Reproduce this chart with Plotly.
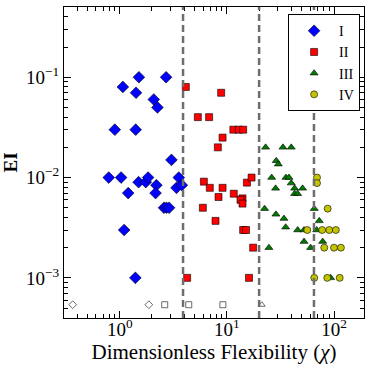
import plotly.graph_objects as go

# ---------------------------------------------------------------------------
# Data
# ---------------------------------------------------------------------------
group_names = ["I", "II", "III", "IV"]

chi_I = [1.51, 2.71, 1.07, 1.42, 2.08, 2.25, 0.90, 1.41, 3.04, 0.79, 1.03, 1.50,
         1.75, 1.84, 2.20, 3.56, 3.39, 3.80, 1.20, 2.16, 2.59, 2.73, 2.89, 1.10, 1.40]
ei_I = [0.1, 0.1, 0.08, 0.07, 0.06, 0.05, 0.03, 0.03, 0.015, 0.01, 0.01, 0.009,
        0.009, 0.01, 0.0084, 0.01, 0.0079, 0.0084, 0.007, 0.007, 0.005, 0.005, 0.005,
        0.003, 0.001]

chi_II = [4.14, 5.36, 6.83, 8.24, 8.85, 11.5, 12.9, 14.2, 9.12, 6.10, 6.93, 8.36,
          5.97, 7.84, 4.26, 9.12, 11.6, 15.4, 17.0, 14.0, 13.4, 14.0, 14.2, 15.1,
          17.6, 16.1]
ei_II = [0.08, 0.04, 0.04, 0.02, 0.07, 0.03, 0.03, 0.03, 0.025, 0.0091, 0.0079,
         0.0064, 0.005, 0.0037, 0.001, 0.0079, 0.0069, 0.0089, 0.01, 0.0062, 0.006,
         0.0055, 0.003, 0.003, 0.002, 0.001]

chi_III = [23.0, 33.4, 39.9, 28.9, 30.2, 26.2, 35.6, 38.0, 39.9, 28.5, 42.9, 50.9,
           42.9, 45.8, 22.5, 28.7, 34.1, 35.4, 45.8, 52.5, 52.5, 24.7, 60.5, 65.4,
           72.9, 68.9, 78.4, 93.1]
ei_III = [0.02, 0.02, 0.02, 0.0147, 0.0136, 0.01, 0.01, 0.01, 0.0088, 0.0078, 0.0078,
          0.0078, 0.0069, 0.0069, 0.0049, 0.0043, 0.0039, 0.0032, 0.003, 0.003,
          0.0023, 0.002, 0.002, 0.0049, 0.0037, 0.003, 0.0023, 0.001]

chi_IV = [69.4, 69.4, 87.3, 56.3, 77.5, 90.3, 104, 81.1, 100, 116, 65.4, 86.5, 113]
ei_IV = [0.01, 0.0088, 0.0049, 0.003, 0.003, 0.003, 0.003, 0.002, 0.002, 0.002,
         0.001, 0.001, 0.001]

# open markers along the bottom
open_chi = [0.364, 1.87, 2.63, 4.41, 9.18, 21.2]
open_ei = [0.00054] * 6
open_symbols = ["diamond-open", "diamond-open", "square-open", "square-open",
                "square-open", "triangle-up-open"]

boundaries = [3.9, 20, 65]

y_tickvals = [1e-3, 1e-2, 1e-1]
y_ticktext = ["10<sup>−3</sup>", "10<sup>−2</sup>", "10<sup>−1</sup>"]
x_tickvals = [1, 10, 100]
x_ticktext = ["10<sup>0</sup>", "10<sup>1</sup>", "10<sup>2</sup>"]

FONT = "Liberation Serif"


def minor_ticks(lo_exp, hi_exp):
    return [m * 10.0 ** e for e in range(lo_exp, hi_exp + 1) for m in range(2, 10)]


fig = go.Figure()

styles = [
    (chi_I, ei_I, "diamond", "#0000ff", 9),
    (chi_II, ei_II, "square", "#ff0000", 7),
    (chi_III, ei_III, "triangle-up", "#007a00", 7),
    (chi_IV, ei_IV, "circle", "#c4c400", 7),
]
for name, (xs, ys, sym, col, size) in zip(group_names, styles):
    fig.add_trace(go.Scatter(
        x=xs, y=ys, mode="markers", name=name,
        marker=dict(symbol=sym, color=col, size=size,
                    line=dict(color="black", width=0.6)),
    ))

fig.add_trace(go.Scatter(
    x=open_chi, y=open_ei, mode="markers", showlegend=False,
    marker=dict(symbol=open_symbols, color="#444444", size=6,
                line=dict(width=0.8)),
))

for b in boundaries:
    fig.add_vline(x=b, line_dash="7px,4px", line_color="#6e6e6e", line_width=2.5)

axis_common = dict(
    type="log", showline=True, linecolor="black", linewidth=1.2, mirror="ticks",
    ticks="inside", ticklen=7, tickwidth=1, tickcolor="black", showgrid=False,
    zeroline=False,
    tickfont=dict(family=FONT, size=19, color="black"),
)
minor_common = dict(ticks="inside", ticklen=3.5, tickwidth=0.8, tickcolor="black",
                    showgrid=False)

fig.update_xaxes(
    **axis_common,
    range=[-0.52, 2.28],
    tickmode="array", tickvals=x_tickvals, ticktext=x_ticktext,
    minor=dict(**minor_common, tickmode="array", tickvals=minor_ticks(-1, 2)),
    ticklabelstandoff=-6,
    title=dict(text="Dimensionless Flexibility (<i>χ</i>)", standoff=0,
               font=dict(family=FONT, size=21, color="black")),
)
fig.update_yaxes(
    **axis_common,
    range=[-3.4, -0.3],
    tickmode="array", tickvals=y_tickvals, ticktext=y_ticktext,
    minor=dict(**minor_common, tickmode="array", tickvals=minor_ticks(-4, -1)),
    title=dict(text="<b>EI</b>", standoff=4,
               font=dict(family=FONT, size=19, color="black")),
)

fig.update_layout(
    width=374, height=369,
    margin=dict(l=64, r=10, t=7, b=51),
    plot_bgcolor="white", paper_bgcolor="white",
    font=dict(family=FONT, color="black"),
    legend=dict(
        x=0.987, y=0.977, xanchor="right", yanchor="top",
        bordercolor="black", borderwidth=1, bgcolor="white",
        font=dict(family=FONT, size=14, color="black"),
        itemwidth=40, tracegroupgap=0,
    ),
)

# page body has a default 8px margin; drop it so the figure sits at the corner
fig.write_html("out.html", config={"displayModeBar": False},
               post_script="document.body.style.margin='0';")
